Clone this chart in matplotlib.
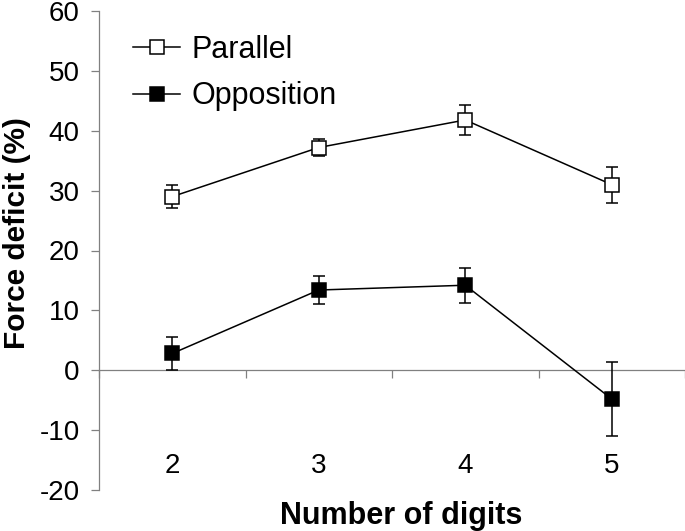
import matplotlib.pyplot as plt
from matplotlib.lines import Line2D
import numpy as np

# valores
digits = ['2', '3', '4', '5']
parallel = [29.0, 37.2, 41.8, 31.0]
parallel_err = [1.9, 1.4, 2.5, 3.0]
opposition = [2.8, 13.4, 14.2, -4.8]
opposition_err = [2.7, 2.4, 2.9, 6.2]

plt.rcParams['font.family'] = ['Liberation Sans', 'DejaVu Sans']
plt.rcParams['axes.unicode_minus'] = False

fig = plt.figure(figsize=(6.85, 5.31), dpi=100)
# eje: izquierda en x=99 px, -20 en y=490 px, 60 en y=11 px
ax = fig.add_axes([99 / 685, 1 - 490 / 531, 586 / 685, 479 / 531])

x = np.arange(1, len(digits) + 1)
style = dict(color='black', lw=1.1, marker='s', ms=9.5, mec='black', mew=1.1,
             capsize=4.3, elinewidth=1.1, capthick=1.1, zorder=3)
ax.errorbar(x, parallel, yerr=parallel_err, mfc='white', **style)
ax.errorbar(x, opposition, yerr=opposition_err, mfc='black', **style)

ax.set_xlim(0.5, len(digits) + 0.5)
ax.set_ylim(-20, 60)

# eje x cruzando en cero
ax.spines['top'].set_visible(False)
ax.spines['right'].set_visible(False)
ax.spines['bottom'].set_position(('data', 0))
for s in ['left', 'bottom']:
    ax.spines[s].set_color('#808080')
    ax.spines[s].set_linewidth(0.9)

ax.set_xticks(x)
ax.set_xticklabels([])
ax.tick_params(axis='x', which='major', length=0)
ax.set_xticks(np.arange(0.5, len(digits) + 1), minor=True)
ax.tick_params(axis='x', which='minor', length=5.8, width=0.9, color='#808080', direction='out')

ax.set_yticks(np.arange(-20, 61, 10))
ax.tick_params(axis='y', length=5.8, width=0.9, color='#808080', labelsize=20, pad=8)

for xi, d in zip(x, digits):
    ax.text(xi, -16, d, ha='center', va='center', fontsize=20)

fig.text(17.5 / 685, 1 - 233.5 / 531, 'Force deficit (%)', rotation=90,
         ha='center', va='center', fontsize=21.5, fontweight='bold')
fig.text(401 / 685, 1 - 516 / 531, 'Number of digits',
         ha='center', va='center', fontsize=22, fontweight='bold')

handles = [
    Line2D([], [], color='black', lw=1.1, marker='s', ms=9.5, mfc='white', mec='black', mew=1.1),
    Line2D([], [], color='black', lw=1.1, marker='s', ms=9.5, mfc='black', mec='black', mew=1.1),
]
fig.legend(handles, ['Parallel', 'Opposition'], loc='upper left',
           bbox_to_anchor=(133 / 685, 1 - 34.5 / 531), frameon=False,
           borderpad=0, borderaxespad=0, handlelength=1.54, handletextpad=0.36,
           labelspacing=0.55, fontsize=22)

fig.savefig('out.png', dpi=100)
